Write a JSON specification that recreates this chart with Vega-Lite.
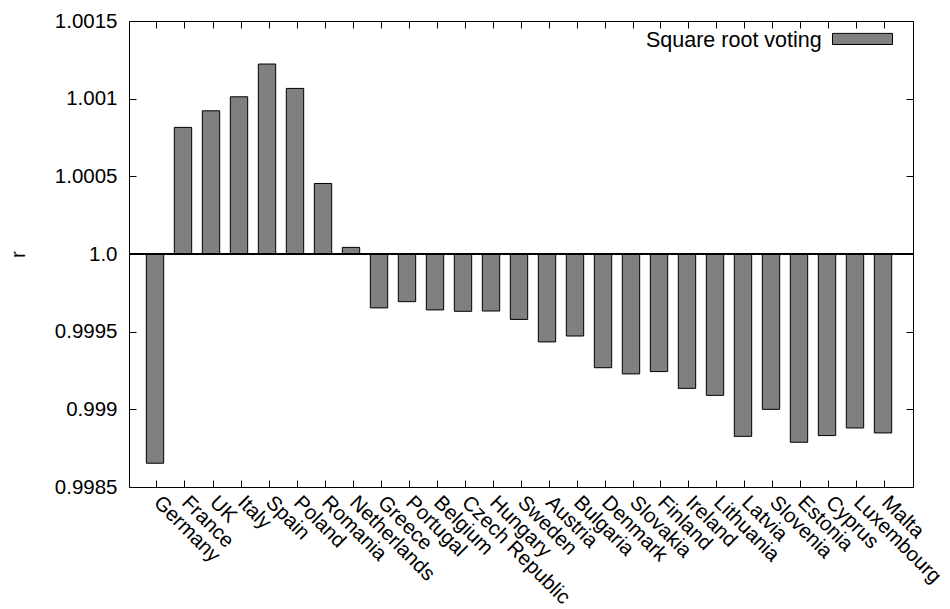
{
  "$schema": "https://vega.github.io/schema/vega-lite/v6.json",
  "width": 784,
  "height": 466,
  "autosize": "none",
  "padding": {"left": 129, "top": 21, "right": 37, "bottom": 122},
  "background": "white",
  "config": {
    "font": "Liberation Sans",
    "view": {"stroke": "black", "strokeWidth": 1},
    "axis": {"labelFont": "Liberation Sans", "titleFont": "Liberation Sans", "labelColor": "black", "titleColor": "black", "grid": false, "domain": false, "tickColor": "black", "labelFontSize": 20.5, "titleFontSize": 20.5, "titleFontWeight": "normal"},
    "legend": {"labelFont": "Liberation Sans", "titleFont": "Liberation Sans"}
  },
  "data": {"values": [
    {"country": "Germany", "r": 0.998653},
    {"country": "France", "r": 1.000815},
    {"country": "UK", "r": 1.000922},
    {"country": "Italy", "r": 1.001012},
    {"country": "Spain", "r": 1.001223},
    {"country": "Poland", "r": 1.001066},
    {"country": "Romania", "r": 1.000454},
    {"country": "Netherlands", "r": 1.0000425},
    {"country": "Greece", "r": 0.999653},
    {"country": "Portugal", "r": 0.999693},
    {"country": "Belgium", "r": 0.99964},
    {"country": "Czech Republic", "r": 0.999631},
    {"country": "Hungary", "r": 0.999633},
    {"country": "Sweden", "r": 0.999579},
    {"country": "Austria", "r": 0.999434},
    {"country": "Bulgaria", "r": 0.999472},
    {"country": "Denmark", "r": 0.999268},
    {"country": "Slovakia", "r": 0.999228},
    {"country": "Finland", "r": 0.999243},
    {"country": "Ireland", "r": 0.999135},
    {"country": "Lithuania", "r": 0.99909},
    {"country": "Latvia", "r": 0.998826},
    {"country": "Slovenia", "r": 0.999},
    {"country": "Estonia", "r": 0.998788},
    {"country": "Cyprus", "r": 0.998831},
    {"country": "Luxembourg", "r": 0.99888},
    {"country": "Malta", "r": 0.998848}
  ]},
  "resolve": {"axis": {"x": "independent", "y": "independent"}},
  "layer": [
    {
      "mark": {"type": "bar", "stroke": "black", "strokeWidth": 1, "xOffset": -2},
      "encoding": {
        "x": {"field": "country", "type": "nominal", "sort": null,
              "scale": {"paddingInner": 0.38, "paddingOuter": 0.69},
              "axis": {"title": null, "labelAngle": 45, "labelAlign": "left", "labelBaseline": "middle", "tickSize": -7, "labelPadding": 19, "labelLimit": 300}},
        "y": {"field": "r", "type": "quantitative",
              "scale": {"domain": [0.9985, 1.0015], "nice": false, "zero": false},
              "axis": {"title": "r", "values": [0.9985, 0.999, 0.9995, 1, 1.0005, 1.001, 1.0015],
                       "labelExpr": "abs(datum.value - 1) < 1e-9 ? '1.0' : format(datum.value, '.5~g')",
                       "tickSize": -7, "labelPadding": 19, "titlePadding": 26}},
        "y2": {"datum": 1},
        "fill": {"datum": "Square root voting", "type": "nominal",
                 "scale": {"range": ["#808080"]},
                 "legend": {"title": "Square root voting", "titleOrient": "left", "titleFontSize": 21.5, "titleFontWeight": "normal", "titleColor": "black",
                            "titleBaseline": "top", "titlePadding": 10,
                            "labelExpr": "''", "labelOffset": 0, "labelFontSize": 1,
                            "symbolType": "M-1,-0.37H1V0H-1Z", "symbolSize": 3600, "symbolStrokeColor": "black", "symbolStrokeWidth": 1, "symbolFillColor": "#808080", "symbolOpacity": 1,
                            "orient": "none", "legendX": 517, "legendY": -7, "padding": 0}}
      }
    },
    {
      "mark": {"type": "rule", "color": "black", "strokeWidth": 1},
      "encoding": {
        "y": {"datum": 1, "type": "quantitative",
              "axis": {"orient": "right", "title": null, "labels": false, "values": [0.9985, 0.999, 0.9995, 1, 1.0005, 1.001, 1.0015], "tickSize": -7}}
      }
    },
    {
      "mark": {"type": "point", "opacity": 0},
      "encoding": {
        "x": {"field": "country", "type": "nominal", "sort": null,
              "axis": {"orient": "top", "title": null, "labels": false, "tickSize": -7}},
        "y": {"field": "r", "type": "quantitative", "axis": null}
      }
    }
  ]
}
